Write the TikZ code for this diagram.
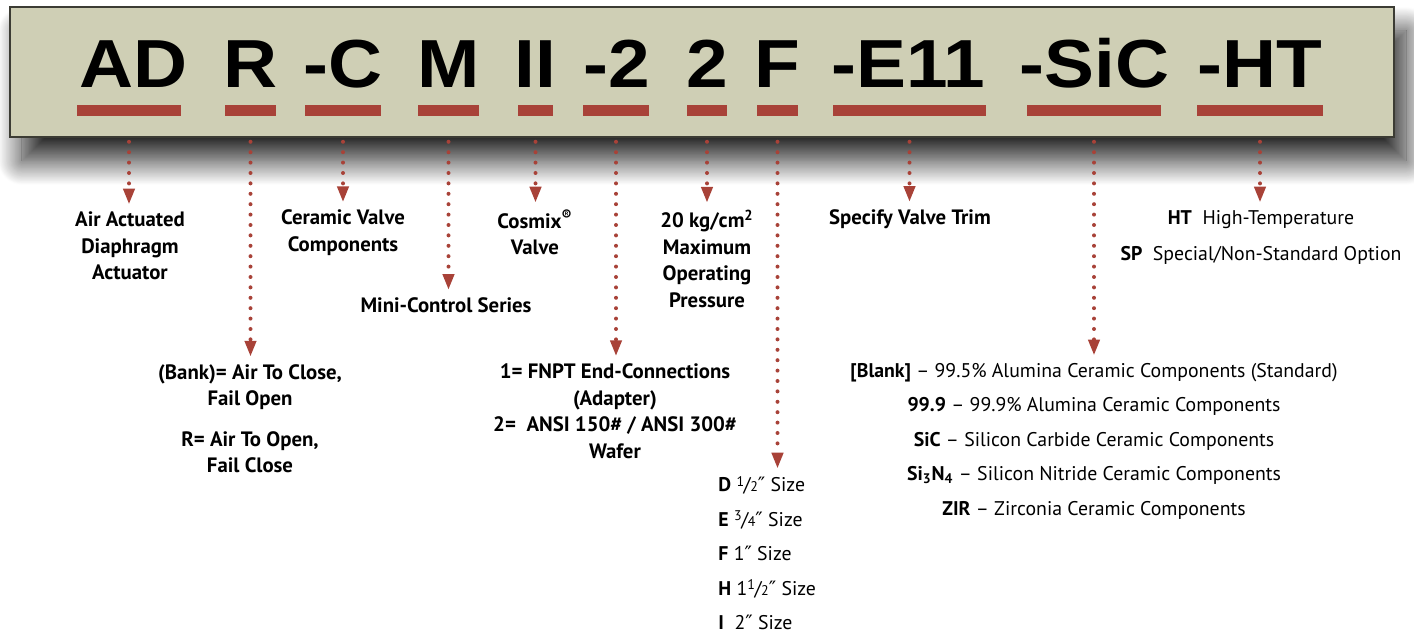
\documentclass[tikz,border=0pt]{standalone}
\usepackage{fontspec}
\setmainfont{PT Sans}
\newfontfamily\codefont{Liberation Sans}
\newfontfamily\symfont{DejaVu Sans}
\usetikzlibrary{arrows.meta, positioning, shadows.blur}
\definecolor{platefill}{RGB}{207,207,181}
\definecolor{plateline}{RGB}{60,60,52}
\definecolor{brick}{RGB}{168,66,56}
\newcommand{\inchmark}{{\symfont\char"2033}}
\newcommand{\frc}[2]{\raisebox{2.8pt}{\scriptsize #1}\kern-0.2pt/\kern-0.2pt{\scriptsize #2}}

\begin{document}
\begin{tikzpicture}[x=0.5pt, y=-0.5pt,
        plate/.style={rectangle, draw=plateline, line width=0.8pt, fill=platefill,
                      minimum width=692pt, minimum height=65pt,
                      blur shadow={shadow xshift=6pt, shadow yshift=-12pt, shadow blur radius=12pt,
                                   shadow blur steps=30, shadow opacity=85}},
        bar/.style={rectangle, fill=brick, inner sep=0pt, minimum height=5.5pt},
        code/.style={anchor=base, inner sep=0pt, font=\fontsize{34}{40}\selectfont\codefont\bfseries},
        lab/.style={align=center, inner sep=3.5pt, font=\fontsize{10.4}{13.25}\selectfont\bfseries},
        opt/.style={align=center, inner sep=3.5pt, font=\fontsize{9.9}{17.25}\selectfont},
        link/.style={brick, line width=2pt, line cap=round, dash pattern=on 0pt off 5.2pt,
                     -{Triangle[length=8pt, width=5.5pt]}}
    ]
    \useasboundingbox (0,0) rectangle (1414,635);
    \node [plate] (frame) at (702,72) {};
    % the part number, one bar under each group
    \foreach \nm/\x/\tx/\w/\txt in {AD/129/133.5/52/AD, R/250.5/250.5/25.5/R, C/343/343/38/-C,
            M/448.5/448.5/30.5/M, II/535.5/535/17.5/II, P2/616/617/33/-2, S2/707/707.5/20/2,
            F/777.5/777/20.5/F, E/909.5/908.5/76.5/-E11, SiC/1094/1094.5/67/-SiC, HT/1260/1260/63/-HT} {
        \node [bar, minimum width=\w pt] (b\nm) at (\x,110.5) {};
        \node [code] (t\nm) at (\tx,88) {\scalebox{1.1}[1]{\txt}};
    }
    % what each group means
    \node [lab] (lAD)  at (130,246)   {Air Actuated\\Diaphragm\\Actuator};
    \node [lab] (lC)   at (343,232.5) {Ceramic Valve\\Components};
    \node [lab] (lII)  at (535,232.5) {Cosmix\textsuperscript{®}\\Valve};
    \node [lab] (lM)   at (446,305)   {Mini-Control Series};
    \node [lab] (lS2)  at (707,259)   {20 kg/cm\textsuperscript{2}\\Maximum\\Operating\\Pressure};
    \node [lab] (lE)   at (910,219)   {Specify Valve Trim};
    \node [opt, font=\fontsize{9.9}{18}\selectfont] (lHT) at (1261,237)
        {\textbf{HT}\ \ High-Temperature\\\textbf{SP}\ \ Special/Non-Standard Option};
    \node [lab] (lR)   at (250,418.5) {(Bank)= Air To Close,\\Fail Open\\[7pt]R= Air To Open,\\Fail Close};
    \node [lab] (lP2)  at (615,411)   {1= FNPT End-Connections\\(Adapter)\\2=\ \ ANSI 150\# / ANSI 300\#\\Wafer};
    \node [opt, align=left, anchor=west] (lF) at (711,553)
        {\textbf{D} \frc{1}{2}\inchmark{} Size\\
         \textbf{E} \frc{3}{4}\inchmark{} Size\\
         \textbf{F} 1\inchmark{} Size\\
         \textbf{H} 1\frc{1}{2}\inchmark{} Size\\
         \textbf{I}\ \ 2\inchmark{} Size};
    \node [opt] (lSiC) at (1094,441)
        {\textbf{[Blank]} -- 99.5\% Alumina Ceramic Components (Standard)\\
         \textbf{99.9} -- 99.9\% Alumina Ceramic Components\\
         \textbf{SiC} -- Silicon Carbide Ceramic Components\\
         \textbf{Si\textsubscript{3}N\textsubscript{4}} -- Silicon Nitride Ceramic Components\\
         \textbf{ZIR} -- Zirconia Ceramic Components};
    % dotted leaders
    \foreach \nm in {AD,R,C,M,II,P2,S2,F,E,SiC,HT}
        \draw [link] ([yshift=-2pt]frame.south -| b\nm) -- (b\nm |- l\nm.north);
\end{tikzpicture}
\end{document}
